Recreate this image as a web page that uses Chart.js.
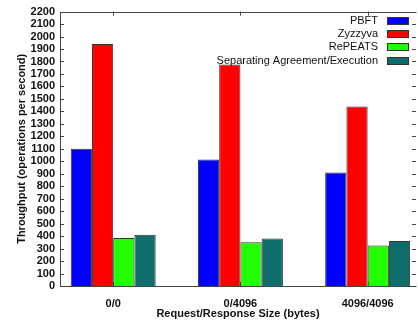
<!DOCTYPE html>
<html>
<head>
<meta charset="utf-8">
<script src="https://cdn.jsdelivr.net/npm/chart.js@4"></script>
<style>
  html, body { margin: 0; padding: 0; background: #fff; }
  #wrap { width: 418px; height: 322px; }
</style>
</head>
<body>
<div id="wrap"><canvas id="throughput" width="418" height="322"></canvas></div>
<script>
var categories = ["0/0", "0/4096", "4096/4096"];
var labels = ["PBFT", "Zyzzyva", "RePEATS", "Separating Agreement/Execution"];
var pbft = [1100, 1015, 910];
var zyzzyva = [1940, 1775, 1440];
var repeats = [385, 350, 325];
var separating = [410, 380, 360];
var colors = ["#0000ff", "#ff0000", "#22ff00", "#0f6e6c"];

var series = [pbft, zyzzyva, repeats, separating];
var FONT = "'Liberation Sans', Arial, sans-serif";
Chart.defaults.font.family = FONT;
Chart.defaults.color = "#111";

// gnuplot style frame with inward ticks, plus the legend inside the plot
var framePlugin = {
    id: 'frame',
    beforeDatasetsDraw: function (chart) {
        var ctx = chart.ctx, a = chart.chartArea;
        var x = chart.scales.x, y = chart.scales.y;
        ctx.save();
        ctx.strokeStyle = '#444';
        ctx.lineWidth = 1;
        ctx.beginPath();
        y.ticks.forEach(function (t) {
            var py = Math.round(y.getPixelForValue(t.value)) + 0.5;
            ctx.moveTo(a.left, py); ctx.lineTo(a.left + 4, py);
            ctx.moveTo(a.right, py); ctx.lineTo(a.right - 4, py);
        });
        x.ticks.forEach(function (t) {
            var px = Math.round(x.getPixelForValue(t.value)) + 0.5;
            ctx.moveTo(px, a.top); ctx.lineTo(px, a.top + 4);
            ctx.moveTo(px, a.bottom); ctx.lineTo(px, a.bottom - 4);
        });
        ctx.stroke();
        ctx.restore();
    },
    afterDatasetsDraw: function (chart) {
        var ctx = chart.ctx, a = chart.chartArea;
        ctx.save();
        ctx.strokeStyle = '#444';
        ctx.lineWidth = 1;
        ctx.beginPath();
        ctx.moveTo(Math.round(a.left) + 0.5, Math.round(a.top) + 0.5);
        ctx.lineTo(Math.round(a.left) + 0.5, Math.round(a.bottom) + 0.5);
        ctx.lineTo(Math.round(a.right) + 0.5, Math.round(a.bottom) + 0.5);
        ctx.moveTo(Math.round(a.left) + 0.5, Math.round(a.top) + 0.5);
        ctx.lineTo(Math.round(a.right) + 0.5, Math.round(a.top) + 0.5);
        ctx.stroke();

        // legend
        ctx.font = "11px " + FONT;
        ctx.textAlign = 'right';
        ctx.textBaseline = 'middle';
        chart.data.datasets.forEach(function (ds, i) {
            var cy = a.top + 9 + i * 13.3;
            ctx.fillStyle = '#111';
            ctx.fillText(ds.label, a.right - 38, cy);
            ctx.fillStyle = ds.backgroundColor;
            ctx.fillRect(a.right - 29, Math.round(cy) - 3, 21, 6);
            ctx.strokeStyle = '#333';
            ctx.strokeRect(a.right - 28.5, Math.round(cy) - 3.5, 21, 7);
        });
        ctx.restore();
    }
};

var bars = document.getElementById("throughput").getContext('2d');
var myChart = new Chart(bars, {
    type: 'bar',
    data: {
        datasets: series.map(function (vals, i) {
            return {
                label: labels[i],
                data: vals.map(function (v, j) { return { x: j, y: v }; }),
                backgroundColor: colors[i],
                borderColor: '#333',
                borderWidth: 1,
                categoryPercentage: 0.668,
                barPercentage: 1.0
            };
        })
    },
    plugins: [framePlugin],
    options: {
        responsive: false,
        animation: false,
        layout: { padding: { top: 8, right: 2, left: 0, bottom: 0 } },
        plugins: {
            legend: { display: false },
            tooltip: { enabled: false }
        },
        scales: {
            x: {
                type: 'linear',
                offset: false,
                min: -0.418,
                max: 2.38,
                grid: { display: false, drawTicks: false },
                border: { display: false },
                afterBuildTicks: function (scale) {
                    scale.ticks = categories.map(function (c, i) { return { value: i }; });
                },
                afterFit: function (scale) { scale.height = 36; },
                ticks: {
                    padding: 11,
                    maxRotation: 0,
                    autoSkip: false,
                    font: { size: 11, weight: 'bold' },
                    callback: function (v) { return categories[v]; }
                },
                title: {
                    display: true,
                    text: 'Request/Response Size (bytes)',
                    font: { size: 11, weight: 'bold' },
                    padding: { top: 0, bottom: 1 }
                }
            },
            y: {
                min: 0,
                max: 2200,
                grid: { display: false, drawTicks: false },
                border: { display: false },
                afterFit: function (scale) { scale.width = 60; },
                ticks: {
                    stepSize: 100,
                    padding: 5,
                    autoSkip: false,
                    font: { size: 11, weight: 'bold' },
                    callback: function (v) { return String(v); }
                },
                title: {
                    display: true,
                    text: 'Throughput (operations per second)',
                    font: { size: 11, weight: 'bold' },
                    padding: { top: 15, bottom: 0 }
                }
            }
        }
    }
});
</script>
</body>
</html>
